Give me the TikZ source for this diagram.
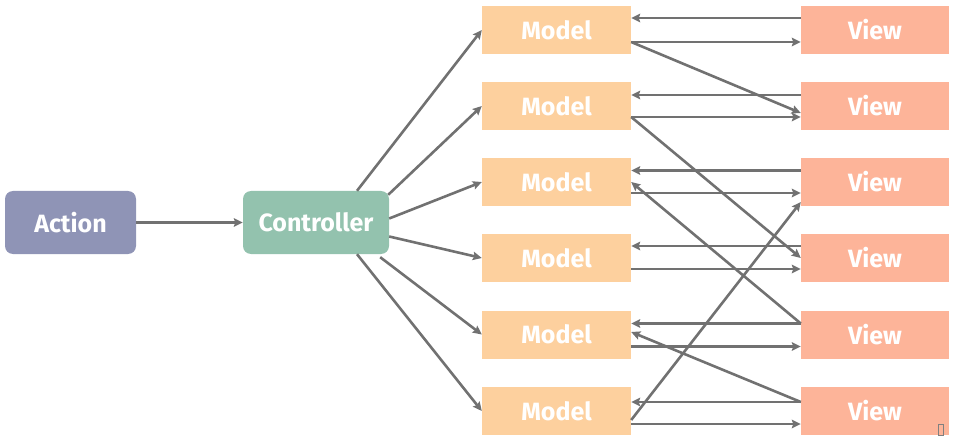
\documentclass[tikz,border=0pt]{standalone}
\usepackage{fontspec}
\setmainfont{Fira Sans}
\usetikzlibrary{arrows.meta,calc}
\definecolor{actfill}{HTML}{8F94B6}
\definecolor{ctlfill}{HTML}{93C2AE}
\definecolor{modelfill}{HTML}{FDD09E}
\definecolor{viewfill}{HTML}{FDB499}
\definecolor{linkgray}{HTML}{717171}
\begin{document}
\begin{tikzpicture}[x=1pt,y=-1pt,
  box/.style={rectangle, text=white, font=\fontsize{25}{28}\selectfont\bfseries, inner sep=0pt},
  big/.style={box, rounded corners=8pt, minimum height=63pt},
  modelbox/.style={box, fill=modelfill, minimum width=149pt, minimum height=48pt},
  viewbox/.style={box, fill=viewfill, minimum width=148pt, minimum height=48pt},
  link/.style={draw=linkgray, line width=2.6pt, -{Stealth[length=9pt,width=8.5pt,inset=1.5pt]}}]
\useasboundingbox (0,0) rectangle (954,441);

% left part
\node[big, fill=actfill, minimum width=131pt] (act) at (70.5,222.5) {Action};
\node[big, fill=ctlfill, minimum width=146pt] (ctl) at (316,222.5) {Controller};

% models and views
\foreach \i/\c in {1/30, 2/106, 3/182, 4/258, 5/334.5, 6/411} {
  \node[modelbox] (m\i) at (556.5,\c) {Model};
  \node[viewbox] (v\i) at (875,\c) {View};
}

\draw[link] (act) -- (ctl);

% controller fans out to every model
\draw[link] ($(ctl.north)+(41,0)$) -- (m1.west);
\draw[link] ($(ctl.north east)+(-1,4)$) -- (m2.west);
\draw[link] ($(ctl.east)+(0,-4)$) -- (m3.west);
\draw[link] ($(ctl.east)+(0,14)$) -- (m4.west);
\draw[link] ($(ctl.south east)+(-9,3)$) -- (m5.west);
\draw[link] ($(ctl.south)+(41,0)$) -- (m6.west);

% paired model/view links
\foreach \i/\u/\l in {1/-12/12, 2/-11/11, 3/-11.5/11, 4/-12/11, 5/-11/12, 6/-9/13} {
  \draw[link] ($(v\i.west)+(0,\u)$) -- ($(m\i.east)+(0,\u)$);
  \draw[link] ($(m\i.east)+(0,\l)$) -- ($(v\i.west)+(0,\l)$);
}

% crossing links
\draw[link] ($(m1.east)+(0,12)$) -- ($(v2.west)+(0,7)$);
\draw[link] ($(m2.east)+(0,11)$) -- (v4.west);
\draw[link] ($(v5.west)+(0,-11)$) -- (m3.east);
\draw[link] ($(v6.west)+(0,-9)$) -- ($(m5.east)+(0,-2.5)$);
\draw[link] ($(m6.east)+(0,9)$) -- ($(v3.west)+(0,20)$);

% small mark in the corner
\draw[gray, line width=0.6pt] (938.5,424.5) rectangle (943.5,435.5);
\end{tikzpicture}
\end{document}
